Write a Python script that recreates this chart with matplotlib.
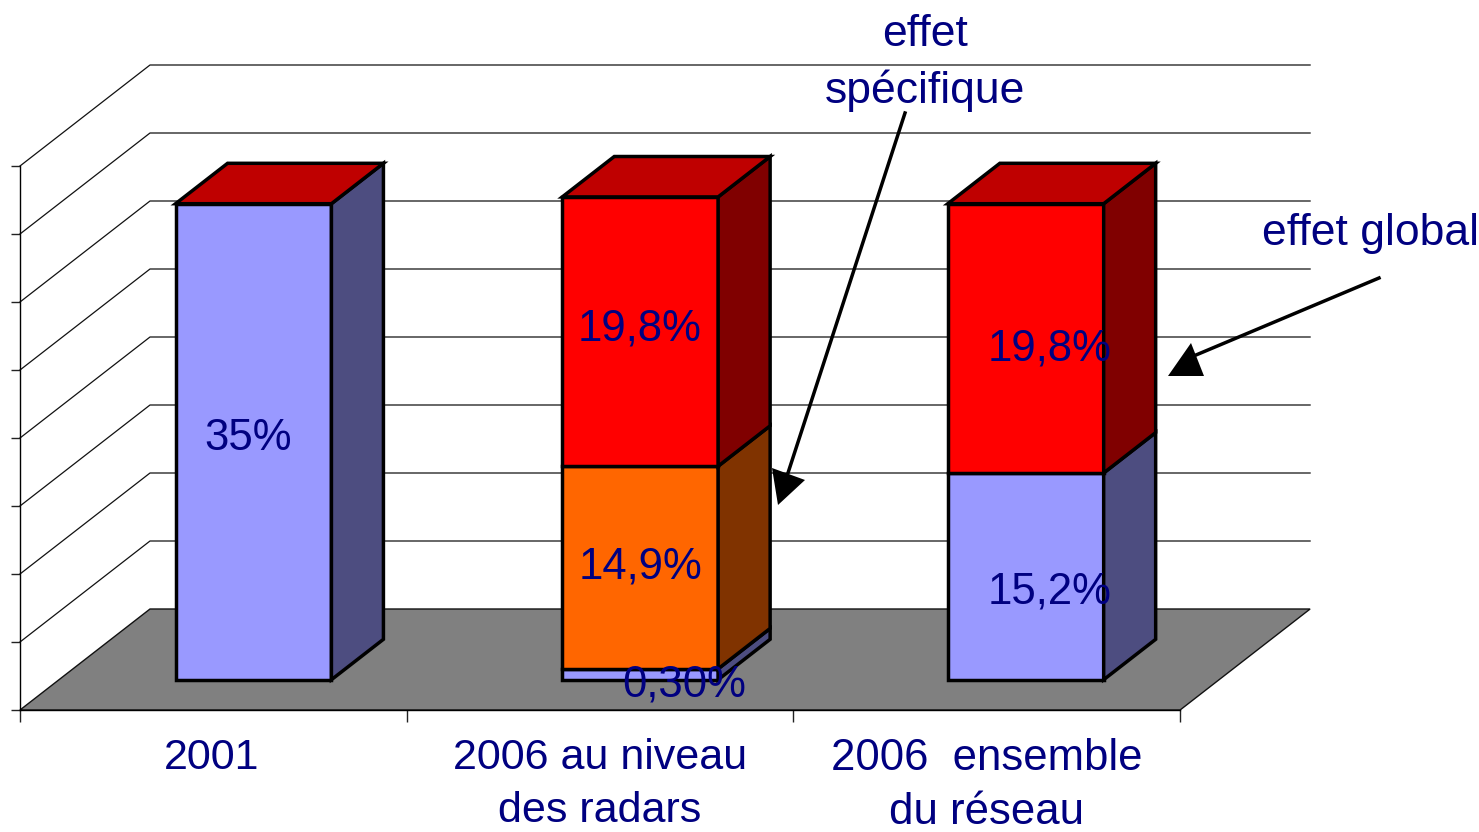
import matplotlib
matplotlib.use('Agg')
import matplotlib.pyplot as plt
from matplotlib.transforms import Affine2D

plt.rcParams['font.family'] = ['Liberation Sans', 'DejaVu Sans']

categories = ['2001', '2006 au niveau\ndes radars', '2006  ensemble\ndu réseau']
# drawn heights, the 0,30% slice is drawn thicker than its label says
blue_values = [35, 0.8, 15.2]
orange_values = [0, 14.9, 0]
red_values = [0, 19.8, 19.8]
value_ticks = [0, 5, 10, 15, 20, 25, 30, 35, 40]
value_labels = ['35%', '19,8%', '14,9%', '0,30%', '19,8%', '15,2%']

navy = '#000080'
font_size = 31

# oblique depth of the chart box, in data units
depth_x = 130 / 386.7
depth_y = 101 / 13.6
bar_start = 0.3
bar_depth = 0.4
bar_width = 0.403
bar_centers = [0.503, 1.503, 2.5]

fig = plt.figure(figsize=(14.79, 8.32), dpi=100)
ax = fig.add_axes([0, 0, 1, 1])
ax.set_xlim(-20 / 386.7, 1459 / 386.7)
ax.set_ylim(-122 / 13.6, 710 / 13.6)

# helper for the annotations, positions in picture pixels from top left
px = Affine2D().scale(1 / 1479, -1 / 832).translate(0, 1) + fig.transFigure

# floor
ax.fill([0, depth_x, 3 + depth_x, 3], [0, depth_y, depth_y, 0],
        facecolor='#808080', edgecolor='#111111', lw=1, zorder=1)

# walls
for v in value_ticks[1:]:
    ax.plot([0, depth_x, 3 + depth_x], [v, v + depth_y, v + depth_y],
            color='#111111', lw=0.9, zorder=1)


def draw_box(center, bottom, height, front, side, top=None):
    left = center - bar_width / 2 + bar_start * depth_x
    right = left + bar_width
    dx = bar_depth * depth_x
    dy = bar_depth * depth_y
    base = bottom + bar_start * depth_y
    ax.bar(left, height, bar_width, bottom=base, align='edge', color=front,
           edgecolor='black', lw=2.5, zorder=3)
    ax.fill([right, right + dx, right + dx, right],
            [base, base + dy, base + height + dy, base + height],
            facecolor=side, edgecolor='black', lw=2.5, zorder=3)
    if top:
        t = base + height
        ax.fill([left, left + dx, right + dx, right], [t, t + dy, t + dy, t],
                facecolor=top, edgecolor='black', lw=2.5, zorder=3)


for i in range(len(categories)):
    bottom = 0
    parts = [(blue_values[i], '#9999FF', '#4D4D80'),
             (orange_values[i], '#FF6600', '#803300'),
             (red_values[i], '#FF0000', '#800000')]
    parts = [p for p in parts if p[0] > 0]
    for j, (val, front, side) in enumerate(parts):
        top = '#BF0000' if j == len(parts) - 1 else None
        draw_box(bar_centers[i], bottom, val, front, side, top)
        bottom += val

# axes
for s in ['top', 'right']:
    ax.spines[s].set_visible(False)
ax.spines['left'].set_position(('data', 0))
ax.spines['bottom'].set_position(('data', 0))
ax.spines['left'].set_bounds(0, 40)
ax.spines['bottom'].set_bounds(0, 3)
ax.spines['left'].set_linewidth(1)
ax.spines['bottom'].set_linewidth(1)
ax.set_yticks(value_ticks)
ax.set_yticklabels([])
ax.tick_params(axis='y', length=6.5, width=1, color='#222222')
ax.set_xticks([0, 1, 2, 3])
ax.set_xticklabels([])
ax.tick_params(axis='x', which='major', length=8.5, width=1, color='#222222')
ax.set_xticks([0.495, 1.5, 2.5], minor=True)
ax.set_xticklabels(categories, minor=True, fontsize=font_size, color=navy,
                   linespacing=1.42)
ax.get_xticklabels(minor=True)[2].set_fontsize(31.5)
ax.tick_params(axis='x', which='minor', length=0, pad=20)

# data labels
label_pos = [(248, 438), (640, 329), (640, 567), (684, 685), (1050, 349), (1050, 592)]
for txt, (x, y) in zip(value_labels, label_pos):
    ax.text(x, y, txt, transform=px, ha='center', va='center',
            fontsize=31.5, color=navy, zorder=5)

# annotations
ax.text(925, 34, 'effet', transform=px, ha='center', va='center',
        fontsize=32, color=navy, zorder=5)
ax.text(925, 91, 'spécifique', transform=px, ha='center', va='center',
        fontsize=32, color=navy, zorder=5)
ax.text(1371, 234, 'effet global', transform=px, ha='center', va='center',
        fontsize=32, color=navy, zorder=5)

ax.plot([905, 787], [113, 476], transform=px, color='black', lw=2.5, zorder=6)
ax.fill([772, 805, 778], [468, 480, 505], transform=px, color='black', lw=0, zorder=6)
ax.plot([1379, 1196], [278, 355], transform=px, color='black', lw=2.5, zorder=6)
ax.fill([1191, 1168, 1204], [343, 376, 376], transform=px, color='black', lw=0, zorder=6)

fig.savefig('out.png', dpi=100)
